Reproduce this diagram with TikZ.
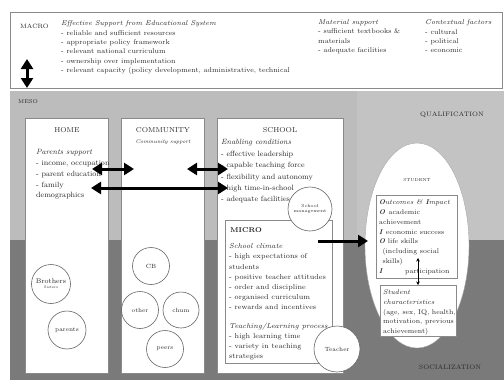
\documentclass[tikz,border=0pt]{standalone}
\usepackage{fontspec}
\usetikzlibrary{arrows.meta,shapes.geometric}
\definecolor{lightg}{HTML}{BCBCBC}
\definecolor{lightr}{HTML}{C3C3C3}
\definecolor{darkg}{HTML}{7A7A7A}
\definecolor{boxg}{HTML}{8A8A8A}
\definecolor{ink}{HTML}{2A2A2A}
\begin{document}
\begin{tikzpicture}[x=1pt,y=-1pt,
  panel/.style={draw=boxg,line width=0.8pt,fill=white,rectangle,anchor=north west,inner sep=0},
  txt/.style={text=ink,align=left,inner sep=0,anchor=north west,font=\fontsize{7}{9.4}\selectfont},
  mtxt/.style={txt,font=\fontsize{7.6}{10.9}\selectfont},
  stxt/.style={txt,font=\fontsize{7.6}{11.3}\selectfont},
  ctxt/.style={txt,font=\fontsize{7.2}{10.2}\selectfont},
  otxt/.style={txt,font=\fontsize{6.9}{9.8}\selectfont},
  ttl/.style={text=ink,inner sep=0,font=\fontsize{7.2}{8}\selectfont},
  lbl/.style={text=ink,inner sep=0,font=\fontsize{6.2}{7}\selectfont},
  actor/.style={circle,draw=gray!80!black,line width=0.6pt,inner sep=0,text=ink},
  bigarrow/.style={line width=3pt,black,{Triangle[length=10pt,width=12pt]}-{Triangle[length=10pt,width=12pt]}},
  onearrow/.style={line width=3pt,black,-{Triangle[length=10pt,width=12pt]}},
  smallarrow/.style={line width=0.6pt,black,{Stealth[length=3.5pt,width=3.5pt]}-{Stealth[length=3.5pt,width=3.5pt]}}]
\useasboundingbox (0,0) rectangle (504,380);
\fill[white] (0,0) rectangle (504,380);
% ---------- MACRO ----------
\node[panel,minimum width=492pt,minimum height=76pt] (macro) at (10,12) {};
\node[lbl,anchor=west] (macrolbl) at (20,26) {MACRO};
\node[txt] (macrotxt) at (61,20.5) {\textit{Effective Support from Educational System}\\
- reliable and sufficient resources\\
- appropriate policy framework\\
- relevant national curriculum\\
- ownership over implementation\\
- relevant capacity (policy development, administrative, technical};
\node[txt] (material) at (318,19.5) {\textit{Material support}\\
- sufficient textbooks \&\\
materials\\
- adequate facilities};
\node[txt] (context) at (425,19.5) {\textit{Contextual factors}\\
- cultural\\
- political\\
- economic};
% ---------- MESO background ----------
\fill[lightg] (10,91) rectangle (504,240);
\fill[lightr] (357,91) rectangle (504,240);
\fill[darkg] (10,240) rectangle (504,380);
\node[lbl,anchor=west,font=\fontsize{5.6}{6}\selectfont] (mesolbl) at (18,102) {MESO};
\node[lbl,font=\fontsize{6.4}{7}\selectfont] (qual) at (452,115) {QUALIFICATION};
\node[lbl,font=\fontsize{6.4}{7}\selectfont] (soc) at (450,367) {SOCIALIZATION};
% macro-meso arrow
\coordinate (mtop) at (27,59);
\coordinate (mbot) at (27,88);
\draw[bigarrow] (mtop) -- (mbot);
% ---------- panels ----------
\node[panel,minimum width=83pt,minimum height=255pt] (home) at (25,118) {};
\node[panel,minimum width=83pt,minimum height=255pt] (community) at (121,118) {};
\node[panel,minimum width=126pt,minimum height=255pt] (school) at (217,118) {};
\node[ttl] (hometl) at (67,130) {HOME};
\node[ttl] (commtl) at (163,130) {COMMUNITY};
\node[lbl,font=\fontsize{5.4}{6}\selectfont\itshape] (commsup) at (163,142) {Community support};
\node[ttl] (schooltl) at (280,130) {SCHOOL};
\node[mtxt] (parents) at (36,149) {\textit{Parents support}\\
- income, occupation\\
- parent education\\
- family\\
demographics};
\node[stxt] (enabling) at (221,139) {\textit{Enabling conditions}\\[0.7pt]
- effective leadership\\
- capable teaching force\\
- flexibility and autonomy\\
- high time-in-school\\
- adequate facilities};
% MICRO box
\node[panel,draw=boxg,minimum width=107pt,minimum height=143pt] (micro) at (225,220) {};
\node[ttl,anchor=west,font=\fontsize{7}{8}\selectfont\bfseries] (microtl) at (230,230) {MICRO};
\node[ctxt] (climate) at (229,243.5) {\textit{School climate}\\
- high expectations of\\
students\\
- positive teacher attitudes\\
- order and discipline\\
- organised curriculum\\
- rewards and incentives};
\node[ctxt] (teaching) at (229,322.5) {\textit{Teaching/Learning process}\\
- high learning time\\
- variety in teaching\\
strategies};
\node[actor,fill=white,minimum size=44pt,align=center,font=\fontsize{4.4}{5.4}\selectfont] (mgmt) at (310,209) {School\\management};
\node[actor,fill=white,minimum size=46pt,font=\fontsize{6}{7}\selectfont] (teacher) at (337,349) {Teacher};
% home & community actors
\node[actor,minimum size=39pt,align=center,font=\fontsize{7}{6}\selectfont] (brothers) at (51,284) {Brothers\\[-1pt]{\fontsize{3.6}{4}\selectfont Sisters}};
\node[actor,minimum size=38pt,font=\fontsize{6}{7}\selectfont] (parentsc) at (67,330) {parents};
\node[actor,minimum size=37pt,font=\fontsize{6}{7}\selectfont] (cb) at (151,266) {CB};
\node[actor,minimum size=37pt,font=\fontsize{6}{7}\selectfont] (other) at (140,310) {other};
\node[actor,minimum size=36pt,font=\fontsize{6}{7}\selectfont] (chum) at (181,310) {chum};
\node[actor,minimum size=37pt,font=\fontsize{6}{7}\selectfont] (peers) at (165,349) {peers};
% ---------- STUDENT ----------
\node[ellipse,fill=white,draw=gray!70,line width=0.4pt,minimum width=104pt,minimum height=205pt,inner sep=0] (student) at (417,245.5) {};
\node[lbl,font=\fontsize{4.2}{5}\selectfont] (studtl) at (417,180) {STUDENT};
\node[panel,minimum width=81pt,minimum height=83pt] (outc) at (376,195) {};
\node[otxt] (outctxt) at (379,199.5) {\textit{\textbf{O}utcomes \& \textbf{I}mpact}\\
\textit{\textbf{O}}\enspace academic\\
achievement\\
\textit{\textbf{I}} economic success\\
\textit{\textbf{O}} life skills\\
\enspace(including social\\
\enspace skills)\\
\textit{\textbf{I}}\hspace{22pt}participation};
\node[panel,minimum width=76pt,minimum height=51pt] (chars) at (380,285) {};
\node[otxt] (charstxt) at (383,289.5) {\textit{Student}\\
\textit{characteristics}\\
(age, sex, IQ, health,\\
motivation, previous\\
achievement)};
% ---------- arrows ----------
\coordinate (a1s) at (92,169);
\coordinate (a1e) at (134,169);
\coordinate (a2s) at (187,169);
\coordinate (a2e) at (228,169);
\coordinate (a3s) at (91,188);
\coordinate (a3e) at (228,188);
\coordinate (a4s) at (318,241);
\coordinate (a4e) at (368,241);
\coordinate (a5s) at (418,258);
\coordinate (a5e) at (418,285);
\draw[bigarrow] (a1s) -- (a1e);
\draw[bigarrow] (a2s) -- (a2e);
\draw[bigarrow] (a3s) -- (a3e);
\draw[onearrow] (a4s) -- (a4e);
\draw[smallarrow] (a5s) -- (a5e);
\end{tikzpicture}
\end{document}
